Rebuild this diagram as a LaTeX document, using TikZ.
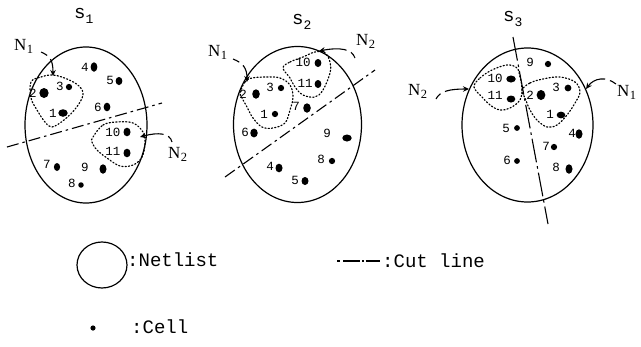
\documentclass[tikz,border=0pt]{standalone}
\usepackage{fontspec}
\setmainfont{Liberation Serif}
\newfontfamily\monofont{Liberation Mono}
\usetikzlibrary{arrows.meta}

\tikzset{
  netlist/.style={draw, line width=1.2pt},
  cutline/.style={line width=1.1pt, dash pattern=on 12pt off 4pt on 2.5pt off 4pt},
  longcut/.style={line width=1.1pt, dash pattern=on 24pt off 4pt on 2.5pt off 4pt},
  netgroup/.style={line width=1.2pt, dash pattern=on 1.2pt off 2.1pt, line cap=round},
  pointer/.style={line width=1.1pt, dash pattern=on 7pt off 5pt on 80pt,
    -{Stealth[length=6pt,width=5.5pt]}},
  cellnum/.style={inner sep=0pt, font=\monofont\fontsize{12.5}{12.5}\selectfont},
  setname/.style={inner sep=0pt, anchor=base west, font=\monofont\fontsize{19}{19}\selectfont},
  netname/.style={inner sep=0pt, anchor=base west, font=\fontsize{17}{17}\selectfont},
  legendtext/.style={inner sep=0pt, anchor=west, font=\monofont\fontsize{19}{19}\selectfont},
}

% a cell: filled dot with its number beside it
% #1 name, #2 #3 dot centre, #4 #5 radii, #6 number, #7 #8 number centre
\newcommand\placecell[8]{%
  \fill (#2,#3) ellipse [x radius=1.25*#4pt, y radius=1.25*#5pt];
  \node[cellnum] (#1) at (#7,#8) {#6};}
\newcommand\subidx[2]{#1\kern0.5pt\raisebox{-3pt}{\fontsize{12.5}{12.5}\selectfont #2}}

\begin{document}
\begin{tikzpicture}[x=1pt,y=-1pt]
\fill[white] (0,0) rectangle (641,346);
\useasboundingbox (0,0) rectangle (641,346);

% ---------------- partition s1 ----------------
\node[setname] (s1) at (74,18) {s\raisebox{-5pt}{\fontsize{13}{13}\selectfont 1}};
\draw[netlist] (86,125) ellipse [x radius=61pt, y radius=78pt];
\placecell{a4}{94}{67}{2.7}{3.8}{4}{85}{67}
\placecell{a5}{119}{81}{2.7}{3.3}{5}{110}{80}
\placecell{a3}{69}{87}{2.5}{2.5}{3}{60}{86}
\placecell{a2}{44}{93}{3.7}{4}{2}{33}{93}
\placecell{a6}{107}{107}{2.7}{3.5}{6}{98}{107}
\placecell{a1}{63}{113}{3.8}{3}{1}{53}{113}
\placecell{a10}{127}{132}{2.8}{3.5}{10}{113}{132}
\placecell{a11}{127}{153}{2.8}{3.5}{11}{113}{151}
\placecell{a7}{57}{167}{2.5}{3.2}{7}{47}{164}
\placecell{a9}{103}{169}{2.8}{3.8}{9}{85}{167}
\placecell{a8}{81}{185}{2.2}{2.2}{8}{72}{183}
\draw[netgroup] plot[smooth cycle, tension=0.6] coordinates {(31,82) (41,77) (53,75) (67,79) (79,86) (83,95) (76,108) (64,120) (52,127) (45,122) (37,110) (31,98)};
\draw[netgroup] plot[smooth cycle, tension=0.6] coordinates {(93,137) (103,125) (117,122) (133,123) (143,132) (145,143) (142,157) (133,165) (120,166) (107,158) (97,150) (92,142)};
\coordinate (c1a) at (7,147); \coordinate (c1b) at (162,103);
\draw[cutline] (c1a) -- (c1b);
\node[netname] (a-n1) at (14,50) {\subidx{N}{1}};
\coordinate (a-n1t) at (41,52); \coordinate (a-n1h) at (53,76);
\draw[pointer] (a-n1t) .. controls (50,56) and (53,60) .. (a-n1h);
\node[netname] (a-n2) at (168,158) {\subidx{N}{2}};
\coordinate (a-n2t) at (172,142); \coordinate (a-n2h) at (140,137);
\draw[pointer] (a-n2t) .. controls (170,133) and (158,132) .. (a-n2h);

% ---------------- partition s2 ----------------
\node[setname] (s2) at (292,24) {s\raisebox{-5pt}{\fontsize{13}{13}\selectfont 2}};
\draw[netlist] (297.5,124.5) ellipse [x radius=64pt, y radius=78pt];
\placecell{b10}{318}{63}{2.7}{3.2}{10}{303}{62}
\placecell{b11}{318}{84}{2.7}{3.2}{11}{305}{83}
\placecell{b3}{281}{88}{2.5}{2.5}{3}{270}{87}
\placecell{b2}{256}{94}{3}{3.8}{2}{243}{94}
\placecell{b7}{307}{108}{3}{3.8}{7}{296}{106}
\placecell{b1}{275}{114}{2.5}{2.5}{1}{264}{114}
\placecell{b6}{254}{133}{3}{3.5}{6}{245}{132}
\placecell{b9}{347}{138}{3.8}{2.8}{9}{327}{133}
\placecell{b8}{332}{161}{2.5}{2.5}{8}{321}{159}
\placecell{b4}{279}{168}{2.8}{3.5}{4}{270}{166}
\placecell{b5}{305}{181}{2.8}{3.2}{5}{295}{180}
\draw[netgroup] plot[smooth cycle, tension=0.6] coordinates {(240,93) (245,82) (252,78) (267,77) (280,78) (290,85) (293,97) (290,110) (285,123) (273,128) (262,127) (253,118) (247,107) (242,98)};
\draw[netgroup] plot[smooth cycle, tension=0.6] coordinates {(283,68) (290,62) (303,57) (315,52) (325,53) (330,62) (330,73) (323,90) (315,97) (303,95) (295,87) (290,78)};
\coordinate (c2a) at (225,177); \coordinate (c2b) at (375,70);
\draw[cutline] (c2a) -- (c2b);
\node[netname] (b-n1) at (208,56) {\subidx{N}{1}};
\coordinate (b-n1t) at (233,59); \coordinate (b-n1h) at (247,82);
\draw[pointer] (b-n1t) .. controls (243,63) and (247,68) .. (b-n1h);
\node[netname] (b-n2) at (356,45) {\subidx{N}{2}};
\coordinate (b-n2t) at (355,58); \coordinate (b-n2h) at (319,51);
\draw[pointer] (b-n2t) .. controls (352,49) and (340,47) .. (b-n2h);

% ---------------- partition s3 ----------------
\node[setname] (s3) at (503,21) {s\raisebox{-5pt}{\fontsize{13}{13}\selectfont 3}};
\draw[netlist] (527.5,125) ellipse [x radius=65.5pt, y radius=77pt];
\placecell{c9}{548}{64}{2.5}{2.5}{9}{530}{62}
\placecell{c10}{511}{79}{3.8}{2.8}{10}{495}{78}
\placecell{c3}{568}{88}{2.7}{2.7}{3}{556}{87}
\placecell{c2}{541}{95}{3.5}{4}{2}{530}{95}
\placecell{c11}{511}{99}{3.5}{2.8}{11}{495}{95}
\placecell{c1}{561}{115}{3.5}{2.7}{1}{550}{114}
\placecell{c5}{517}{128}{2.3}{2.3}{5}{506}{128}
\placecell{c4}{579}{134}{2.8}{3.8}{4}{572}{133}
\placecell{c7}{554}{147}{2.5}{2.5}{7}{546}{146}
\placecell{c6}{517}{161}{2.3}{2.3}{6}{507}{160}
\placecell{c8}{569}{169}{2.8}{3.8}{8}{556}{167}
\draw[netgroup] plot[smooth cycle, tension=0.6] coordinates {(474,87) (480,78) (492,70) (507,65) (517,68) (520,77) (522,88) (520,100) (510,108) (500,110) (490,105) (482,97)};
\draw[netgroup] plot[smooth cycle, tension=0.6] coordinates {(522,90) (530,83) (543,79) (560,77) (575,82) (580,92) (575,103) (567,115) (557,125) (547,127) (537,120) (530,110) (525,98)};
\coordinate (c3a) at (513,37); \coordinate (c3b) at (548,224);
\draw[longcut] (c3a) -- (c3b);
\node[netname] (c-n2) at (408,95) {\subidx{N}{2}};
\coordinate (c-n2t) at (436,99); \coordinate (c-n2h) at (469,89);
\draw[pointer] (c-n2t) .. controls (440,91) and (450,89) .. (c-n2h);
\node[netname] (c-n1) at (617,96) {\subidx{N}{1}};
\coordinate (c-n1t) at (616,84); \coordinate (c-n1h) at (586,89);
\draw[pointer] (c-n1t) .. controls (606,76) and (594,78) .. (c-n1h);

% ---------------- legend ----------------
\draw[netlist] (102,265) ellipse [x radius=25pt, y radius=23pt];
\node[legendtext] (l-net) at (127,260) {:Netlist};
\coordinate (l-cuta) at (337,261); \coordinate (l-cutb) at (380,261);
\draw[line width=1.1pt, dash pattern=on 3pt off 3pt on 17pt off 2pt on 1.5pt off 2pt on 17pt] (l-cuta) -- (l-cutb);
\node[legendtext] (l-cut) at (382,261) {:Cut line};
\fill (93,328) circle [radius=2.6pt];
\node[legendtext] (l-cell) at (131,327) {:Cell};
\end{tikzpicture}
\end{document}
